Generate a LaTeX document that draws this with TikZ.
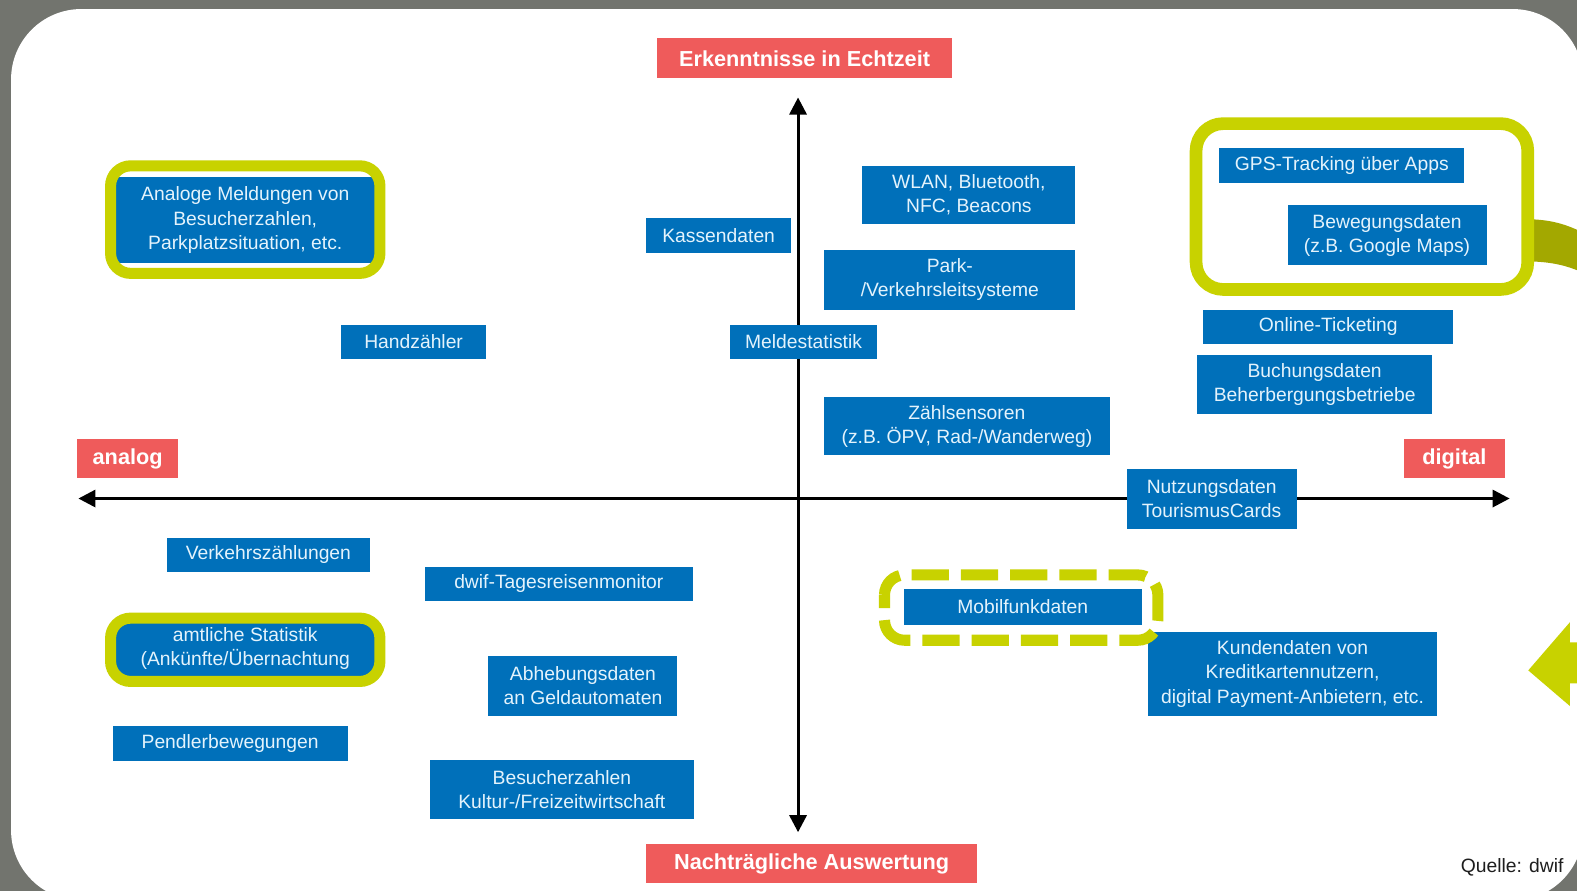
\documentclass[tikz,border=0pt]{standalone}
\usepackage{fontspec}
\setmainfont{Liberation Sans}
\usetikzlibrary{arrows.meta}
\definecolor{bgray}{RGB}{114,116,110}
\definecolor{dblue}{RGB}{0,112,186}
\definecolor{btext}{RGB}{228,243,252}
\definecolor{lred}{RGB}{239,91,91}
\definecolor{lime}{RGB}{200,210,0}
\definecolor{olive}{RGB}{163,168,0}
\definecolor{qtext}{RGB}{30,30,30}
\begin{document}
\begin{tikzpicture}[x=0.5pt,y=-0.5pt,
  bbox/.style={fill=dblue, text=btext, align=center, inner sep=0pt,
    font=\fontsize{9.6}{12}\selectfont},
  rbox/.style={fill=lred, text=white, inner sep=0pt,
    font=\fontsize{10.8}{13}\selectfont\bfseries},
  sz/.style 2 args={minimum width=#1*0.5pt, minimum height=#2*0.5pt},
  gframe/.style={draw=lime, line width=5.5pt, rounded corners=10pt},
  axisline/.style={line width=1.5pt, {Triangle[length=8.5pt,width=8.5pt]}-{Triangle[length=8.5pt,width=8.5pt]}}
]
\useasboundingbox (0,0) rectangle (1569,886.5);
\clip (0,0) rectangle (1569,886.5);
% background
\fill[bgray] (0,0) rectangle (1569,886.5);
\fill[white, rounded corners=35pt] (11,9) rectangle (1575,896);

% decorative shapes at right edge
\fill[olive] (1515,218) .. controls (1540,218) and (1555,222) .. (1572,230)
  -- (1572,270) .. controls (1555,263) and (1540,260) .. (1515,260) -- cycle;
\fill[lime] (1520.5,667) -- (1562,619) -- (1562,639) -- (1572,639)
  -- (1572,680) -- (1562,680) -- (1562,702.5) -- cycle;

% axes
\coordinate (L) at (78,496);
\coordinate (R) at (1502,496);
\coordinate (T) at (794,97);
\coordinate (B) at (794,828);
\draw[axisline] (L) -- (R);
\draw[axisline] (B) -- (T);

% red labels
\node[rbox, sz={293}{40}] (top) at (800.5,58) {Erkenntnisse in Echtzeit};
\node[rbox, sz={329}{39}] (bot) at (807.5,859.5) {Nachträgliche Auswertung};
\node[rbox, sz={101}{39}] (ana) at (127,456.5) {analog};
\node[rbox, sz={101}{39}] (dig) at (1447,456.5) {digital};

% blue boxes
\node[bbox, sz={260}{86}] (b1) at (244,219) {Analoge Meldungen von\\Besucherzahlen,\\Parkplatzsituation, etc.};
\node[bbox, sz={144}{35}] (b2) at (715,234.5) {Kassendaten};
\node[bbox, sz={212}{58}] (b3) at (964,194) {WLAN, Bluetooth,\\NFC, Beacons};
\node[bbox, sz={250}{59}] (b4) at (945,278.5) {Park-\\/Verkehrsleitsysteme};
\node[bbox, sz={145}{34}] (b5) at (411.5,340) {Handzähler};
\node[bbox, sz={147}{34}] (b6) at (799.5,340) {Meldestatistik};
\node[bbox, sz={284}{58}] (b7) at (962,424) {Zählsensoren\\(z.B. ÖPV, Rad-/Wanderweg)};
\node[bbox, sz={244}{35}] (b8) at (1335,164.5) {GPS-Tracking über Apps};
\node[bbox, sz={198}{60}] (b9) at (1380,234) {Bewegungsdaten\\(z.B. Google Maps)};
\node[bbox, sz={249}{34}] (b10) at (1321.5,325) {Online-Ticketing};
\node[bbox, sz={234}{59}] (b11) at (1308,382.5) {Buchungsdaten\\Beherbergungsbetriebe};
\node[bbox, sz={169}{59}] (b12) at (1205.5,496.5) {Nutzungsdaten\\TourismusCards};
\node[bbox, sz={202}{34}] (b13) at (267,552) {Verkehrszählungen};
\node[bbox, sz={266}{34}] (b14) at (556,581) {dwif-Tagesreisenmonitor};
\node[bbox, sz={260}{56}] (b15) at (244,645) {amtliche Statistik\\(Ankünfte/Übernachtung};
\node[bbox, sz={237}{36}] (b16) at (1017.5,604) {Mobilfunkdaten};
\node[bbox, sz={288}{83}] (b17) at (1286,670.5) {Kundendaten von\\Kreditkartennutzern,\\digital Payment-Anbietern, etc.};
\node[bbox, sz={188}{59}] (b18) at (580,682.5) {Abhebungsdaten\\an Geldautomaten};
\node[bbox, sz={234}{35}] (b19) at (229,739.5) {Pendlerbewegungen};
\node[bbox, sz={262}{59}] (b20) at (559,785.5) {Besucherzahlen\\Kultur-/Freizeitwirtschaft};

% green frames
\draw[gframe] (110,165) rectangle (378,272);
\draw[gframe] (110,615) rectangle (378,678);
\draw[gframe, line width=6.3pt, rounded corners=13.5pt] (1190,123) rectangle (1520,288);
\draw[gframe, dash pattern=on 18.5pt off 6pt, dash phase=12pt] (880,572) rectangle (1152,637);

% source
\node[font=\fontsize{9.6}{12}\selectfont, text=qtext, anchor=east, inner sep=0pt] (src) at (1556,863) {Quelle: dwif};
\end{tikzpicture}
\end{document}
